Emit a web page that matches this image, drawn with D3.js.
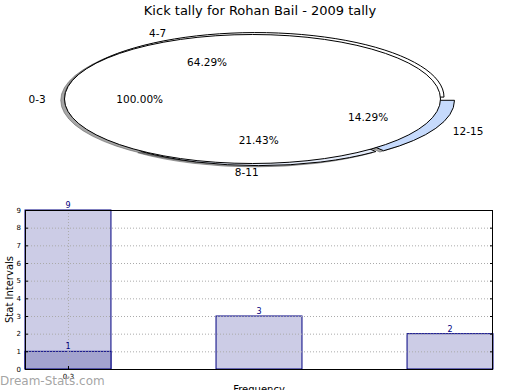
<!DOCTYPE html>
<html>
<head>
<meta charset="utf-8">
<script src="https://cdn.jsdelivr.net/npm/d3@7"></script>
<style>
  html, body { margin: 0; padding: 0; background: #fff; }
  svg { display: block; font-family: "DejaVu Sans", sans-serif; }
</style>
</head>
<body>
<svg id="chart" width="520" height="390"></svg>
<script>
// ---- data ----
const titleText = "Kick tally for Rohan Bail - 2009 tally";
const pieLabels = ["0-3", "4-7", "8-11", "12-15"];
const pieCounts = [14, 9, 3, 2];
const pieColors = ["#ffffff", "#ffffff", "#e6edfb", "#c6dafc"];
const pieExplode = [0.033, 0.033, 0.033, 0.046];

const barLabels = ["0-3", "4-7", "8-11"];
const barValues = [9, 3, 2];
const overlayValues = [1];
const xTickLabels = ["0-3"];
const yTicks = [0, 1, 2, 3, 4, 5, 6, 7, 8, 9];
const yAxisTitle = "Stat Intervals";
const xAxisTitle = "Frequency";
const watermark = "Dream-Stats.com";

(function () {
const svg = d3.select("#chart");

// ---- title ----
svg.append("text").attr("x", 260).attr("y", 15).attr("text-anchor", "middle")
  .attr("font-size", 13).attr("fill", "#000").text(titleText);

// ---- pie ----
const cx = 258.7, cy = 99, rx = 188, ry = 64.5;
const total = d3.max(pieCounts);
const cum = [0, ...d3.cumsum(pieCounts)];
const ang = d3.scaleLinear().domain([0, total]).range([Math.PI / 2, Math.PI / 2 - 2 * Math.PI]);
const theta = d3.scaleLinear().domain([0, total]).range([0, 2 * Math.PI]);
const arc = d3.arc().innerRadius(0).outerRadius(1);

const slices = pieCounts.map((v, i) => {
  const tm = theta(cum[i] + v / 2);
  const e = pieExplode[i];
  return {
    label: pieLabels[i], value: v, color: pieColors[i],
    startAngle: ang(cum[i]), endAngle: ang(cum[i] + v),
    ox: e * Math.cos(tm), oy: -e * Math.sin(tm), tm
  };
});

const pieG = svg.append("g");
pieG.selectAll("path.shadow").data(slices).join("path")
  .attr("class", "shadow")
  .attr("d", d => arc(d))
  .attr("transform", d => `translate(${cx - 0.02 * rx},${cy + 0.02 * ry}) scale(${rx},${ry}) translate(${d.ox},${d.oy})`)
  .attr("fill", "rgba(77,77,77,0.5)")
  .attr("stroke", "rgba(77,77,77,0.5)")
  .attr("stroke-width", 1)
  .attr("vector-effect", "non-scaling-stroke");
pieG.selectAll("path.wedge").data(slices.slice().reverse()).join("path")
  .attr("class", "wedge")
  .attr("d", d => arc(d))
  .attr("transform", d => `translate(${cx},${cy}) scale(${rx},${ry}) translate(${d.ox},${d.oy})`)
  .attr("fill", d => d.color)
  .attr("stroke", "#000")
  .attr("stroke-width", 1)
  .attr("vector-effect", "non-scaling-stroke");
slices.forEach(d => {
  const lx = cx + rx * (d.ox + 1.1 * Math.cos(d.tm));
  const ly = cy + ry * (d.oy - 1.1 * Math.sin(d.tm));
  svg.append("text").attr("x", lx).attr("y", ly)
    .attr("text-anchor", Math.cos(d.tm) > 0 ? "start" : "end")
    .attr("dominant-baseline", "central")
    .attr("font-size", 10.5).attr("fill", "#000").text(d.label);
  const px = cx + rx * (d.ox + 0.6 * Math.cos(d.tm));
  const py = cy + ry * (d.oy - 0.6 * Math.sin(d.tm));
  svg.append("text").attr("x", px).attr("y", py)
    .attr("text-anchor", "middle").attr("dominant-baseline", "central")
    .attr("font-size", 10.5).attr("fill", "#000")
    .text((d.value / total * 100).toFixed(2) + "%");
});

// ---- bar chart ----
const pL = 25, pR = 493, pT = 210, pB = 369;
const bw = 0.45;
const x = d3.scaleLinear().domain([-bw / 2, barValues.length - 1 + bw / 2]).range([pL, pR]);
const y = d3.scaleLinear().domain([0, 9]).range([pB, pT]);
const g = svg.append("g");

g.selectAll("rect.bar").data(barValues).join("rect")
  .attr("x", (d, i) => x(i - bw / 2)).attr("width", (d, i) => x(i + bw / 2) - x(i - bw / 2))
  .attr("y", d => y(d)).attr("height", d => y(0) - y(d))
  .attr("fill", "#cccce6").attr("stroke", "#000080").attr("stroke-width", 1);
g.selectAll("rect.over").data(overlayValues).join("rect")
  .attr("x", (d, i) => x(i - bw / 2)).attr("width", (d, i) => x(i + bw / 2) - x(i - bw / 2))
  .attr("y", d => y(d)).attr("height", d => y(0) - y(d))
  .attr("fill", "#a3a3cf").attr("stroke", "#000080").attr("stroke-width", 1);

g.selectAll("line.hgrid").data(yTicks.slice(1, -1)).join("line")
  .attr("x1", pL).attr("x2", pR).attr("y1", d => y(d) + 0.5).attr("y2", d => y(d) + 0.5)
  .attr("stroke", "#aaa").attr("stroke-dasharray", "1,2");
g.selectAll("line.vgrid").data(xTickLabels).join("line")
  .attr("x1", (d, i) => x(i) + 0.5).attr("x2", (d, i) => x(i) + 0.5).attr("y1", pT).attr("y2", pB)
  .attr("stroke", "#aaa").attr("stroke-dasharray", "1,2");

g.append("rect").attr("x", pL + 0.5).attr("y", pT + 0.5)
  .attr("width", pR - pL - 1).attr("height", pB - pT)
  .attr("fill", "none").attr("stroke", "#000").attr("stroke-width", 1);

const yAxisL = d3.axisLeft(y).tickValues(yTicks).tickSize(-3).tickPadding(4);
g.append("g").attr("transform", `translate(${pL},0)`).call(yAxisL)
  .call(s => s.select(".domain").remove())
  .call(s => s.selectAll("text").attr("font-size", 7).attr("font-family", "DejaVu Sans").attr("fill", "#000"));
const yAxisR = d3.axisRight(y).tickValues(yTicks).tickSize(-3).tickFormat("");
g.append("g").attr("transform", `translate(${pR},0)`).call(yAxisR)
  .call(s => s.select(".domain").remove());

const xAxis = d3.axisBottom(x).tickValues(xTickLabels.map((d, i) => i))
  .tickFormat((d, i) => xTickLabels[i]).tickSize(-3).tickPadding(5);
g.append("g").attr("transform", `translate(0,${pB})`).call(xAxis)
  .call(s => s.select(".domain").remove())
  .call(s => s.selectAll("text").attr("font-size", 7).attr("font-family", "DejaVu Sans").attr("fill", "#000"));

const valueLabels = barValues.map((v, i) => ({ v, i })).concat(overlayValues.map((v, i) => ({ v, i })));
g.selectAll("text.val").data(valueLabels).join("text")
  .attr("x", d => x(d.i)).attr("y", d => y(d.v) - 2)
  .attr("text-anchor", "middle").attr("font-size", 8).attr("fill", "#000080")
  .text(d => d.v);

svg.append("text").attr("transform", `translate(13,${(pT + pB) / 2}) rotate(-90)`)
  .attr("text-anchor", "middle").attr("font-size", 10).attr("fill", "#000").text(yAxisTitle);
svg.append("text").attr("x", (pL + pR) / 2).attr("y", 393)
  .attr("text-anchor", "middle").attr("font-size", 10).attr("fill", "#000").text(xAxisTitle);

svg.append("text").attr("x", 0).attr("y", 385)
  .attr("font-size", 12).attr("fill", "#999").attr("fill-opacity", 0.9).text(watermark);
})();
</script>
</body>
</html>
